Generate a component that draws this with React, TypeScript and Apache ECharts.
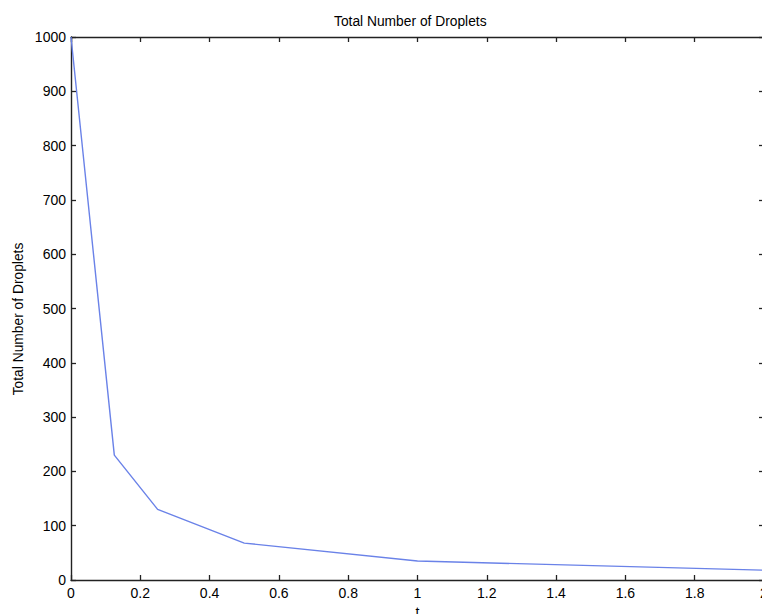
import React, { useEffect, useRef } from "react";
import * as echarts from "echarts";

const timeValues = [0, 0.125, 0.25, 0.5, 1, 2];
const dropletCounts = [1000, 230, 130, 68, 35, 18];
const titleText = "Total Number of Droplets";
const yAxisLabel = "Total Number of Droplets";
const xAxisLabel = "t";

export default function App() {
  const ref = useRef<HTMLDivElement>(null);
  useEffect(() => {
    if (!ref.current) return;
    const chart = echarts.init(ref.current, undefined, { renderer: "svg" });
    const font = "Liberation Sans, Arial, Helvetica, sans-serif";
    const axisLine = { show: true, onZero: false, lineStyle: { color: "#222", width: 1.4 } };
    const tick = { show: true, inside: true, length: 5, lineStyle: { color: "#222", width: 1.3 } };
    chart.setOption({
      animation: false,
      backgroundColor: "#ffffff",
      title: {
        text: titleText,
        left: 329,
        top: 9,
        textStyle: { fontFamily: font, fontSize: 13.8, fontWeight: "normal", color: "#000" },
      },
      graphic: [
        {
          type: "text",
          x: 18,
          y: 319,
          rotation: Math.PI / 2,
          style: {
            text: yAxisLabel,
            fontFamily: font,
            fontSize: 13.8,
            fill: "#000",
            align: "center",
            verticalAlign: "middle",
          },
        },
      ],
      grid: {
        left: 71,
        top: 37,
        bottom: 34,
        right: 16,
        containLabel: false,
        outerBoundsMode: "none",
      },
      xAxis: [
        {
          type: "value",
          min: 0,
          max: 2,
          interval: 0.2,
          position: "bottom",
          name: xAxisLabel,
          nameLocation: "middle",
          nameGap: 19,
          nameTextStyle: { fontFamily: font, fontSize: 14, color: "#000" },
          axisLine,
          axisTick: tick,
          splitLine: { show: false },
          axisLabel: { fontFamily: font, fontSize: 14, color: "#000", margin: 6 },
        },
        {
          type: "value",
          min: 0,
          max: 2,
          interval: 0.2,
          position: "top",
          axisLine,
          axisTick: tick,
          splitLine: { show: false },
          axisLabel: { show: false },
        },
      ],
      yAxis: [
        {
          type: "value",
          min: 0,
          max: 1000,
          interval: 100,
          position: "left",
          axisLine,
          axisTick: tick,
          splitLine: { show: false },
          axisLabel: {
            fontFamily: font,
            fontSize: 14,
            color: "#000",
            margin: 5,
            formatter: (v: number) => String(v),
          },
        },
        {
          type: "value",
          min: 0,
          max: 1000,
          interval: 100,
          position: "right",
          axisLine,
          axisTick: tick,
          splitLine: { show: false },
          axisLabel: { show: false },
        },
      ],
      series: [
        {
          type: "line",
          data: timeValues.map((t, i) => [t, dropletCounts[i]]),
          showSymbol: false,
          symbol: "none",
          lineStyle: { color: "#6a82e8", width: 1.4 },
          xAxisIndex: 0,
          yAxisIndex: 0,
        },
      ],
    });
    return () => chart.dispose();
  }, []);
  return (
    <div
      style={{
        position: "fixed",
        left: 0,
        top: 0,
        width: 762,
        height: 614,
        overflow: "hidden",
        background: "#fff",
      }}
    >
      <div ref={ref} style={{ width: 780, height: 614 }} />
    </div>
  );
}
